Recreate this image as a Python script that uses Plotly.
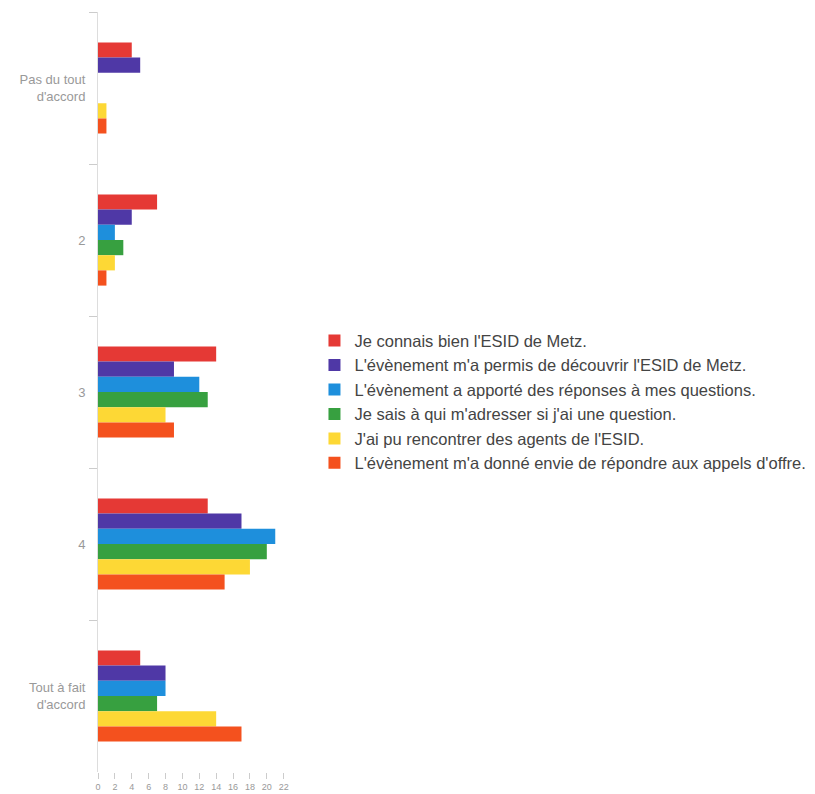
import plotly.graph_objects as go

# Survey answers on a 1-5 agreement scale
categories = ["Pas du tout<br>d'accord", "2", "3", "4", "Tout à fait<br>d'accord"]

statements = [
    "Je connais bien l'ESID de Metz.",
    "L'évènement m'a permis de découvrir l'ESID de Metz.",
    "L'évènement a apporté des réponses à mes questions.",
    "Je sais à qui m'adresser si j'ai une question.",
    "J'ai pu rencontrer des agents de l'ESID.",
    "L'évènement m'a donné envie de répondre aux appels d'offre.",
]

counts_connais = [4, 7, 14, 13, 5]
counts_decouvrir = [5, 4, 9, 17, 8]
counts_reponses = [0, 2, 12, 21, 8]
counts_adresser = [0, 3, 13, 20, 7]
counts_agents = [1, 2, 8, 18, 14]
counts_appels = [1, 1, 9, 15, 17]

series = [counts_connais, counts_decouvrir, counts_reponses,
          counts_adresser, counts_agents, counts_appels]

colors = ["#e53935", "#4f38a6", "#1e8fdc", "#37a040", "#fdd835", "#f4511e"]

x_ticks = list(range(0, 23, 2))

fig = go.Figure()
for i, (name, vals, col) in enumerate(zip(statements, series, colors)):
    fig.add_trace(go.Bar(
        y=categories, x=vals, name=name, orientation="h",
        marker=dict(color=col, line=dict(width=0)),
        legendgroup=f"g{i}",
    ))

W, H = 815, 794
ml, mr, mt, mb = 98, 2, 12, 21
plot_w = W - ml - mr

fig.update_layout(
    width=W, height=H,
    margin=dict(l=ml, r=mr, t=mt, b=mb),
    paper_bgcolor="white", plot_bgcolor="white",
    barmode="group", bargap=0.4, bargroupgap=0,
    font=dict(family="Liberation Sans, Arial, sans-serif", color="#444"),
    xaxis=dict(
        domain=[0, 187 / plot_w],
        range=[0, 22], tickvals=x_ticks, ticktext=[str(v) for v in x_ticks],
        showgrid=False, zeroline=False, showline=False,
        ticks="outside", ticklen=6, tickcolor="#ccc",
        tickfont=dict(size=9, color="#999"),
    ),
    yaxis=dict(
        autorange="reversed", categoryorder="array", categoryarray=categories,
        showgrid=False, zeroline=False,
        showline=True, linecolor="#ddd", linewidth=1,
        ticks="outside", tickson="boundaries", ticklen=8, tickcolor="#ccc",
        tickfont=dict(size=13, color="#999"),
        ticklabelstandoff=9,
    ),
    legend=dict(
        x=(316 - ml) / plot_w, xanchor="left",
        y=0.487, yanchor="middle",
        font=dict(size=16.5, color="#444"),
        tracegroupgap=5, traceorder="normal",
    ),
    showlegend=True,
)

fig.write_html("out.html")
